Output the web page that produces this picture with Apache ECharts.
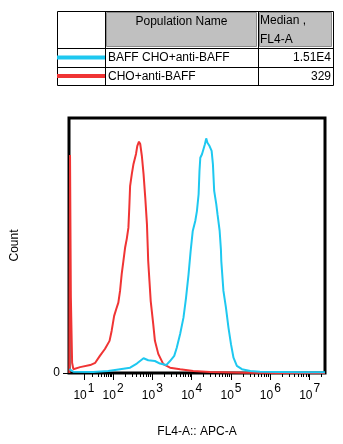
<!DOCTYPE html>
<html>
<head>
<meta charset="utf-8">
<script src="https://cdn.jsdelivr.net/npm/echarts@6/dist/echarts.min.js"></script>
<style>
  html, body { margin: 0; padding: 0; background: #fff; }
  #chart { width: 343px; height: 444px; }
</style>
</head>
<body>
<div id="chart"></div>
<script>
// Histogram bins: [position on the display axis (decades), count as % of mode]
const redHistogram = [
  [0.890, 0], [0.906, 85.5], [0.927, 30], [0.959, 4], [0.991, 1.5], [1.162, 2.3], [1.419, 3.1],
  [1.547, 4.0], [1.665, 6.7], [1.793, 9.4], [1.911, 12.6], [1.964, 16.5], [2.028, 22.4],
  [2.082, 25.1], [2.135, 27.6], [2.178, 32.2], [2.220, 38.8], [2.263, 43.9], [2.306, 49.1],
  [2.349, 52.6], [2.391, 57.0], [2.413, 64.8], [2.434, 73.3], [2.477, 78.0], [2.520, 82.0],
  [2.584, 85.9], [2.616, 89.0], [2.659, 90.7], [2.691, 89.8], [2.733, 85.1], [2.776, 78.0],
  [2.819, 68.8], [2.862, 58.4], [2.883, 49.1], [2.894, 43.9], [2.926, 36.1], [2.958, 28.2],
  [3.022, 19.2], [3.065, 12.6], [3.150, 7.5], [3.278, 3.5], [3.449, 2.1], [3.706, 1.5],
  [4.037, 0.8], [4.465, 0.4], [5.309, 0.1], [6.249, 0], [7.39, 0]
];
const blueHistogram = [
  [0.890, 1.5], [0.906, 1.6], [0.991, 0.5], [1.494, 0.4], [1.878, 0.8], [2.178, 1.5],
  [2.434, 2.1], [2.605, 3.7], [2.776, 5.8], [2.894, 5.0], [3.065, 4.7], [3.193, 3.7],
  [3.353, 3.1], [3.449, 4.7], [3.556, 6.7], [3.620, 9.9], [3.706, 15.3], [3.791, 21.7],
  [3.856, 29.5], [3.920, 38.7], [3.973, 47.8], [4.027, 55.7], [4.091, 59.6], [4.133, 63.5],
  [4.176, 70.1], [4.198, 79.2], [4.219, 84.4], [4.262, 85.8], [4.294, 86.4], [4.336, 89.7],
  [4.369, 92.0], [4.401, 90.3], [4.454, 89.0], [4.507, 87.1], [4.540, 81.8], [4.572, 71.4],
  [4.625, 66.2], [4.657, 62.2], [4.711, 55.7], [4.743, 48.5], [4.753, 43.9], [4.807, 32.2],
  [4.871, 25.6], [4.935, 17.8], [4.999, 11.3], [5.063, 6.0], [5.149, 2.8], [5.277, 1.5],
  [5.491, 0.8], [5.737, 0.5], [6.784, 0.3], [7.39, 0.3]
];

// Decade ticks on the biexponential display axis (10^1 sits in the compressed zone)
const decadePositions = [1.26, 2, 3, 4, 5, 6, 7];
const decadeExponents = ['1', '2', '3', '4', '5', '6', '7'];

// Statistics table
const populationNames = ['BAFF CHO+anti-BAFF', 'CHO+anti-BAFF'];
const populationMedians = ['1.51E4', '329'];
const populationColors = ['#1ec8f0', '#f03434'];

const FONT = '"Liberation Sans", Arial, sans-serif';
const X_MIN = 0.88, X_MAX = 7.39;

// minor ticks: 2..9 inside each decade
const minorPositions = [];
for (let i = 0; i < decadePositions.length; i++) {
  const start = decadePositions[i];
  const width = i === 0 ? decadePositions[1] - decadePositions[0] : 1;
  for (let k = 2; k <= 9; k++) {
    const p = start + width * Math.log10(k);
    if (p <= X_MAX) minorPositions.push(p);
  }
}

// table geometry
const tL = 57, tR = 333, tT = 11, tB = 85;
const c1 = 105, c2 = 258;
const r1 = 48, r2 = 67;
const rowMid = [57.5, 76];

const graphic = [
  { type: 'rect', shape: { x: c1 + 1.5, y: tT + 1.5, width: c2 - c1 - 3, height: r1 - tT - 3 },
    style: { fill: '#c0c0c0', stroke: '#8a8a8a', lineWidth: 1 } },
  { type: 'rect', shape: { x: c2 + 1.5, y: tT + 1.5, width: tR - c2 - 3, height: r1 - tT - 3 },
    style: { fill: '#c0c0c0', stroke: '#8a8a8a', lineWidth: 1 } },
  { type: 'rect', shape: { x: tL + 0.5, y: tT + 0.5, width: tR - tL, height: tB - tT },
    style: { fill: 'none', stroke: '#000', lineWidth: 1 } },
  { type: 'line', shape: { x1: c1 + 0.5, y1: tT, x2: c1 + 0.5, y2: tB }, style: { stroke: '#000', lineWidth: 1 } },
  { type: 'line', shape: { x1: c2 + 0.5, y1: tT, x2: c2 + 0.5, y2: tB }, style: { stroke: '#000', lineWidth: 1 } },
  { type: 'line', shape: { x1: tL, y1: r1 + 0.5, x2: tR, y2: r1 + 0.5 }, style: { stroke: '#000', lineWidth: 1 } },
  { type: 'line', shape: { x1: tL, y1: r2 + 0.5, x2: tR, y2: r2 + 0.5 }, style: { stroke: '#000', lineWidth: 1 } },
  { type: 'text', x: (c1 + c2) / 2, y: 22, style: { text: 'Population Name', font: '12px ' + FONT, fill: '#000', align: 'center', verticalAlign: 'middle' } },
  { type: 'text', x: c2 + 2, y: 21, style: { text: 'Median ,', font: '12px ' + FONT, fill: '#000', align: 'left', verticalAlign: 'middle' } },
  { type: 'text', x: c2 + 2, y: 40, style: { text: 'FL4-A', font: '12px ' + FONT, fill: '#000', align: 'left', verticalAlign: 'middle' } }
];
populationNames.forEach((name, i) => {
  graphic.push(
    { type: 'line', shape: { x1: tL, y1: rowMid[i], x2: c1, y2: rowMid[i] },
      style: { stroke: populationColors[i], lineWidth: 4 } },
    { type: 'text', x: c1 + 3, y: rowMid[i] + 0.5,
      style: { text: name, font: '12px ' + FONT, fill: '#000', align: 'left', verticalAlign: 'middle' } },
    { type: 'text', x: tR - 2, y: rowMid[i] + 0.5,
      style: { text: populationMedians[i], font: '12px ' + FONT, fill: '#000', align: 'right', verticalAlign: 'middle' } }
  );
});

const chart = echarts.init(document.getElementById('chart'), null, { renderer: 'canvas' });
chart.setOption({
  animation: false,
  backgroundColor: '#fff',
  graphic: graphic,
  grid: {
    left: 69, right: 18, top: 118, bottom: 71,
    show: true, borderColor: '#000', borderWidth: 3, backgroundColor: 'transparent'
  },
  xAxis: [
    {
      type: 'value', min: X_MIN, max: X_MAX, position: 'bottom',
      name: 'FL4-A:: APC-A', nameLocation: 'middle', nameGap: 53,
      nameTextStyle: { fontFamily: FONT, fontSize: 12, color: '#000' },
      axisLine: { show: false },
      splitLine: { show: false },
      axisTick: { show: true, customValues: decadePositions, length: 7, inside: false,
        lineStyle: { color: '#000', width: 1 } },
      axisLabel: {
        customValues: decadePositions, margin: 10, showMinLabel: true, showMaxLabel: true,
        formatter: (v) => {
          const i = decadePositions.findIndex((p) => Math.abs(p - v) < 1e-6);
          return i < 0 ? '' : '{b|10}{e|' + decadeExponents[i] + '}';
        },
        rich: {
          b: { fontFamily: FONT, fontSize: 12, color: '#000', verticalAlign: 'bottom', padding: [7, 0, 0, 0] },
          e: { fontFamily: FONT, fontSize: 12, color: '#000', verticalAlign: 'bottom', padding: [0, 0, 7, 1] }
        }
      }
    },
    {
      type: 'value', min: X_MIN, max: X_MAX, position: 'bottom',
      axisLine: { show: false }, splitLine: { show: false },
      axisTick: { show: true, customValues: minorPositions, length: 4,
        lineStyle: { color: '#000', width: 1 } },
      axisLabel: { show: false }
    }
  ],
  yAxis: {
    type: 'value', min: 0, max: 100,
    name: 'Count', nameLocation: 'middle', nameGap: 48, nameRotate: 90,
    nameTextStyle: { fontFamily: FONT, fontSize: 12, color: '#000' },
    axisLine: { show: false }, splitLine: { show: false },
    axisTick: { show: true, customValues: [0], length: 6, lineStyle: { color: '#000', width: 1 } },
    axisLabel: { customValues: [0], margin: 9, fontFamily: FONT, fontSize: 12, color: '#000' }
  },
  series: [
    {
      name: populationNames[1], type: 'line', data: redHistogram, xAxisIndex: 0,
      showSymbol: false, symbol: 'none', clip: true,
      lineStyle: { color: populationColors[1], width: 2 }
    },
    {
      name: populationNames[0], type: 'line', data: blueHistogram, xAxisIndex: 0,
      showSymbol: false, symbol: 'none', clip: true,
      lineStyle: { color: populationColors[0], width: 2 }
    }
  ]
});
</script>
</body>
</html>
